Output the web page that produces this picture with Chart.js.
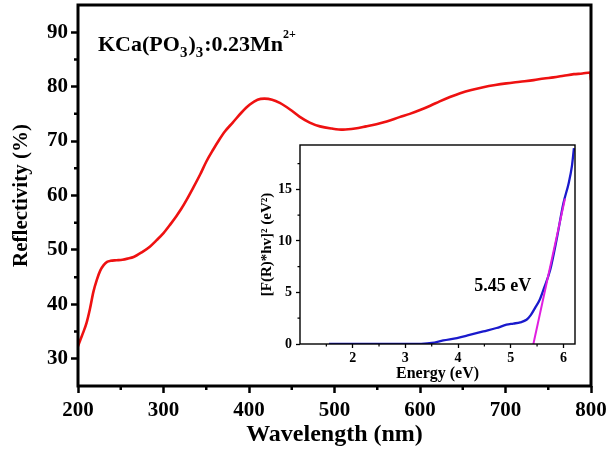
<!DOCTYPE html>
<html>
<head>
<meta charset="utf-8">
<script src="https://cdn.jsdelivr.net/npm/chart.js@4.4.1/dist/chart.umd.min.js"></script>
<style>
  html, body { margin: 0; padding: 0; background: #fff; }
  #wrap { position: relative; width: 608px; height: 455px; }
  #main { position: absolute; left: 0; top: 0; }
  #inset { position: absolute; left: 250px; top: 138px; }
</style>
</head>
<body>
<div id="wrap">
  <canvas id="main" width="608" height="455"></canvas>
  <canvas id="inset" width="335" height="248"></canvas>
</div>
<script>
// main spectrum: diffuse reflectance
const wavelength = [200, 203, 206, 210, 214, 218, 222, 226, 230, 234, 238, 245, 252, 258, 265, 275, 284, 292, 300, 308, 315, 321, 327, 335, 343, 350, 358, 365, 372, 381, 391, 401, 410, 418, 427, 436, 448, 459, 471, 483, 497, 510, 524, 537, 549, 561, 576, 588, 600, 612, 623, 635, 647, 660, 674, 688, 701, 717, 733, 745, 756, 768, 780, 790, 799, 800];
const reflectivity = [32.3, 33.6, 34.8, 36.6, 39.2, 42.3, 44.5, 46.2, 47.2, 47.8, 48.0, 48.1, 48.2, 48.4, 48.7, 49.6, 50.6, 51.8, 53.1, 54.7, 56.2, 57.6, 59.2, 61.5, 63.9, 66.2, 68.4, 70.2, 71.8, 73.4, 75.2, 76.7, 77.6, 77.8, 77.6, 77.0, 75.8, 74.5, 73.4, 72.7, 72.3, 72.1, 72.3, 72.7, 73.1, 73.6, 74.4, 75.0, 75.7, 76.5, 77.3, 78.1, 78.8, 79.4, 79.9, 80.3, 80.6, 80.9, 81.2, 81.5, 81.7, 82.0, 82.3, 82.4, 82.6, 81.2];
const xTicks = [200, 300, 400, 500, 600, 700, 800];
const xMinor = [250, 350, 450, 550, 650, 750];
const yTicks = [30, 40, 50, 60, 70, 80, 90];
const yMinor = [35, 45, 55, 65, 75, 85];

// inset: Kubelka-Munk plot
const energy = [1.55, 2.0, 2.5, 3.0, 3.3, 3.5, 3.72, 3.98, 4.2, 4.48, 4.73, 4.92, 5.05, 5.18, 5.3, 5.38, 5.46, 5.55, 5.62, 5.75, 5.87, 6.0, 6.1, 6.16, 6.2];
const kubelka = [0, 0, 0, 0, 0.02, 0.1, 0.35, 0.58, 0.85, 1.22, 1.55, 1.87, 1.98, 2.1, 2.35, 2.8, 3.48, 4.3, 5.26, 7.2, 10.1, 13.65, 15.6, 17.2, 19.0];
const fitEnergy = [5.43, 6.03];
const fitValue = [0, 14.1];
const insetXTicks = [2, 3, 4, 5, 6];
const insetXMinor = [1.5, 2.5, 3.5, 4.5, 5.5];
const insetYTicks = [0, 5, 10, 15];
const insetYMinor = [2.5, 7.5, 12.5, 17.5];

const serif = "'Liberation Serif', 'Times New Roman', serif";
Chart.defaults.font.family = serif;
Chart.defaults.color = "#000";

function pts(xs, ys) {
  return xs.map((v, i) => ({ x: v, y: ys[i] }));
}

function setTicks(list) {
  return s => { s.ticks = list.map(v => ({ value: v })); };
}

function fixSize(key, size) {
  return s => {
    s[key] = size;
    s.paddingTop = 0; s.paddingBottom = 0; s.paddingLeft = 0; s.paddingRight = 0;
  };
}

function frameAndMinor(xMin, yMin, len, tickW, frameW) {
  return {
    id: "frameMinor",
    afterDraw(chart) {
      const { ctx, chartArea: a, scales } = chart;
      ctx.save();
      ctx.strokeStyle = "#000";
      ctx.lineWidth = tickW;
      ctx.beginPath();
      xMin.forEach(v => {
        const px = scales.x.getPixelForValue(v);
        ctx.moveTo(px, a.bottom);
        ctx.lineTo(px, a.bottom + len);
      });
      yMin.forEach(v => {
        const py = scales.y.getPixelForValue(v);
        ctx.moveTo(a.left, py);
        ctx.lineTo(a.left - len, py);
      });
      ctx.stroke();
      ctx.lineWidth = frameW;
      ctx.strokeRect(a.left, a.top, a.right - a.left, a.bottom - a.top);
      ctx.restore();
    }
  };
}

const formulaLabel = {
  id: "formula",
  afterDraw(chart) {
    const ctx = chart.ctx;
    const a = chart.chartArea;
    let x = a.left + 20;
    const base = a.top + 46;
    const parts = [
      ["KCa(PO", 22, 0],
      ["3", 15, 6],
      [")", 22, 0],
      ["3", 15, 6],
      [":0.23Mn", 22, 0],
      ["2+", 12, -13]
    ];
    ctx.save();
    ctx.fillStyle = "#000";
    ctx.textBaseline = "alphabetic";
    parts.forEach(p => {
      ctx.font = "bold " + p[1] + "px " + serif;
      ctx.fillText(p[0], x, base + p[2]);
      x += ctx.measureText(p[0]).width + (p[1] < 20 ? 1 : 0);
    });
    ctx.restore();
  }
};

const gapLabel = {
  id: "gapLabel",
  afterDraw(chart) {
    const { ctx, scales } = chart;
    ctx.save();
    ctx.font = "bold 18px " + serif;
    ctx.fillStyle = "#000";
    ctx.textAlign = "center";
    ctx.textBaseline = "middle";
    ctx.fillText("5.45 eV", scales.x.getPixelForValue(4.85), scales.y.getPixelForValue(5.6));
    ctx.restore();
  }
};

new Chart(document.getElementById("main"), {
  type: "line",
  data: {
    datasets: [{
      data: pts(wavelength, reflectivity),
      borderColor: "#ee1111",
      borderWidth: 2.6,
      pointRadius: 0,
      cubicInterpolationMode: "monotone"
    }]
  },
  options: {
    responsive: false,
    animation: false,
    layout: { padding: { left: 0, top: 5, right: 17, bottom: 0 } },
    plugins: { legend: { display: false }, tooltip: { enabled: false } },
    scales: {
      x: {
        type: "linear",
        min: 200,
        max: 800,
        afterBuildTicks: setTicks(xTicks),
        afterFit: fixSize("height", 69),
        border: { display: false },
        grid: { drawOnChartArea: false, tickLength: 7, tickWidth: 2.5, tickColor: "#000" },
        ticks: { padding: 5, maxRotation: 0, font: { size: 21, weight: "bold" } },
        title: {
          display: true,
          text: "Wavelength (nm)",
          font: { size: 24, weight: "bold" },
          padding: { top: 0, bottom: 6 }
        }
      },
      y: {
        min: 25,
        max: 95,
        afterBuildTicks: setTicks(yTicks),
        afterFit: fixSize("width", 78),
        border: { display: false },
        grid: { drawOnChartArea: false, tickLength: 7, tickWidth: 2.5, tickColor: "#000" },
        ticks: { padding: 3, font: { size: 21, weight: "bold" } },
        title: {
          display: true,
          text: "Reflectivity (%)",
          font: { size: 21, weight: "bold" },
          padding: { top: 9, bottom: 0 }
        }
      }
    }
  },
  plugins: [frameAndMinor(xMinor, yMinor, 4, 2.5, 3), formulaLabel]
});

new Chart(document.getElementById("inset"), {
  type: "line",
  data: {
    datasets: [
      {
        data: pts(fitEnergy, fitValue),
        borderColor: "#e01ee0",
        borderWidth: 2,
        pointRadius: 0
      },
      {
        data: pts(energy, kubelka),
        borderColor: "#1a1acc",
        borderWidth: 2.3,
        pointRadius: 0,
        cubicInterpolationMode: "monotone"
      }
    ]
  },
  options: {
    responsive: false,
    animation: false,
    layout: { padding: { left: 0, top: 7, right: 10, bottom: 0 } },
    plugins: { legend: { display: false }, tooltip: { enabled: false } },
    scales: {
      x: {
        type: "linear",
        min: 1,
        max: 6.22,
        afterBuildTicks: setTicks(insetXTicks),
        afterFit: fixSize("height", 42),
        border: { display: false },
        grid: { drawOnChartArea: false, tickLength: 4, tickWidth: 1.3, tickColor: "#000" },
        ticks: { padding: 2, maxRotation: 0, font: { size: 14, weight: "bold" } },
        title: {
          display: true,
          text: "Energy (eV)",
          font: { size: 16, weight: "bold" },
          padding: { top: 0, bottom: 3 }
        }
      },
      y: {
        min: 0,
        max: 19.3,
        afterBuildTicks: setTicks(insetYTicks),
        afterFit: fixSize("width", 50),
        border: { display: false },
        grid: { drawOnChartArea: false, tickLength: 4, tickWidth: 1.3, tickColor: "#000" },
        ticks: { padding: 4, font: { size: 14, weight: "bold" } },
        title: {
          display: true,
          text: "[F(R)*hv]² (eV²)",
          font: { size: 15, weight: "bold" },
          padding: { top: 8, bottom: 0 }
        }
      }
    }
  },
  plugins: [frameAndMinor(insetXMinor, insetYMinor, 2.5, 1.2, 1.4), gapLabel]
});
</script>
</body>
</html>
